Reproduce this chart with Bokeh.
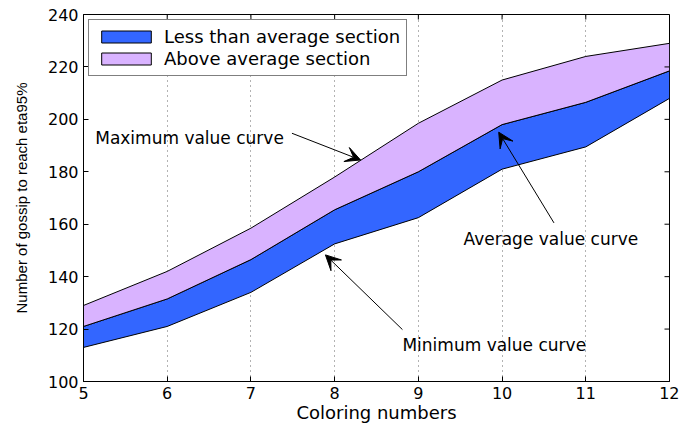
import math
from bokeh.plotting import figure
from bokeh.models import FixedTicker, Arrow, VeeHead, ColumnDataSource
from bokeh.core.properties import value
from bokeh.embed import file_html
from bokeh.resources import INLINE

# ---- data ----
coloring = [5, 6, 7, 8, 9, 10, 11, 12]
max_vals = [129, 142, 158.5, 178, 198.5, 215, 224, 229]
avg_vals = [121, 131.5, 146.5, 165.5, 180, 198, 206.5, 218.5]
min_vals = [113, 121, 134, 152.5, 162.5, 181, 189.5, 208]

x_ticks = [5, 6, 7, 8, 9, 10, 11, 12]
y_ticks = [100, 120, 140, 160, 180, 200, 220, 240]

series_labels = ["Less than average section", "Above average section"]
series_colors = ["#3366ff", "#d9b3ff"]

annot_text = ["Maximum value curve", "Average value curve", "Minimum value curve"]
annot_x = [5.14, 9.54, 8.81]
annot_y = [192.7, 154.5, 114.1]
arrow_x0 = [7.49, 10.62, 8.81]
arrow_y0 = [194.7, 160.5, 119.8]
arrow_x1 = [8.31, 9.96, 7.89]
arrow_y1 = [184.5, 195.1, 148.3]

FONT = "DejaVu Sans"

p = figure(width=679, height=425, x_range=(x_ticks[0], x_ticks[-1]),
           y_range=(y_ticks[0], y_ticks[-1]),
           output_backend="svg", toolbar_location=None,
           min_border_left=83, min_border_right=10, min_border_top=14, min_border_bottom=43)
p.background_fill_color = "white"
p.border_fill_color = "white"
p.outline_line_color = "black"
p.outline_line_width = 1

# bands
low_xs = coloring + coloring[::-1]
low_ys = avg_vals + min_vals[::-1]
high_xs = coloring + coloring[::-1]
high_ys = max_vals + avg_vals[::-1]
p.patch(low_xs, low_ys, fill_color=series_colors[0], line_color="black", line_width=1,
        legend_label=series_labels[0])
p.patch(high_xs, high_ys, fill_color=series_colors[1], line_color="black", line_width=1,
        legend_label=series_labels[1])

# axes
for ax, ticks in ((p.xaxis[0], x_ticks), (p.yaxis[0], y_ticks)):
    ax.ticker = FixedTicker(ticks=ticks)
    ax.major_tick_in = 5
    ax.major_tick_out = 0
    ax.minor_tick_line_color = None
    ax.axis_line_color = "black"
    ax.major_tick_line_color = "black"
    ax.major_label_text_font = FONT
    ax.major_label_text_font_size = "16px"
    ax.major_label_text_color = "black"
    ax.major_label_standoff = 5
    ax.axis_label_text_font_style = "normal"
    ax.axis_label_text_color = "black"

p.xaxis.axis_label = "Coloring numbers"
p.xaxis.axis_label_text_font = FONT
p.xaxis.axis_label_text_font_size = "18px"
p.xaxis.axis_label_standoff = 0
p.yaxis.axis_label = "Number of gossip to reach eta95%"
p.yaxis.axis_label_text_font = "Liberation Sans"
p.yaxis.axis_label_text_font_size = "15px"
p.yaxis.axis_label_standoff = 15

# inward ticks on the right and top edges of the box
p.ray(x=[x_ticks[-1]] * len(y_ticks), y=y_ticks, length=5, length_units="screen",
      angle=math.pi, line_color="black", line_width=1)
p.ray(x=x_ticks, y=[y_ticks[-1]] * len(x_ticks), length=5, length_units="screen",
      angle=-math.pi / 2, line_color="black", line_width=1)

# grid
p.ygrid.grid_line_color = None
p.xgrid.grid_line_color = "#666666"
p.xgrid.grid_line_dash = "1 4"
p.xgrid.grid_line_width = 1

# annotations
src = ColumnDataSource(dict(x=annot_x, y=annot_y, t=annot_text))
p.text(x="x", y="y", text="t", source=src, text_font=value(FONT), text_font_size="17px",
       text_align="left", text_baseline="alphabetic", text_color="black")
for i in range(len(arrow_x0)):
    p.add_layout(Arrow(end=VeeHead(size=15, fill_color="black", line_color="black"),
                       x_start=arrow_x0[i], y_start=arrow_y0[i],
                       x_end=arrow_x1[i], y_end=arrow_y1[i],
                       line_color="black", line_width=1))

# legend
lg = p.legend[0]
lg.location = "top_left"
lg.margin = 5
lg.padding = 6
lg.spacing = 1
lg.glyph_width = 62
lg.glyph_height = 15
lg.label_height = 15
lg.label_standoff = 7
lg.label_text_font = FONT
lg.label_text_font_size = "18px"
lg.label_text_color = "black"
lg.border_line_color = "black"
lg.border_line_width = 1
lg.background_fill_color = "white"
lg.background_fill_alpha = 1

open("out.html", "w").write(file_html(p, INLINE))
